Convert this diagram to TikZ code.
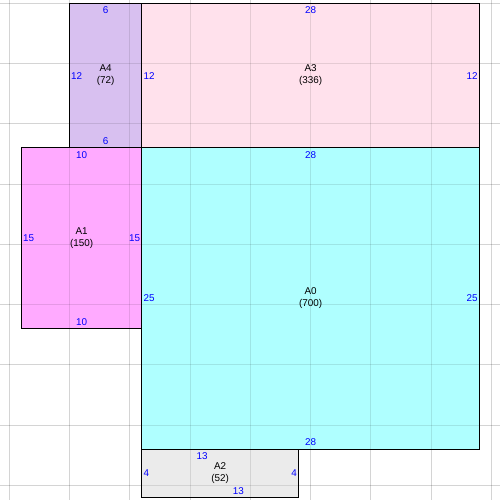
\documentclass[tikz,border=0pt]{standalone}
\usepackage{fontspec}
\setmainfont{Liberation Sans}
\usetikzlibrary{positioning}

\definecolor{fillA0}{RGB}{175,255,255}
\definecolor{fillA1}{RGB}{255,170,255}
\definecolor{fillA2}{RGB}{235,235,235}
\definecolor{fillA3}{RGB}{255,225,236}
\definecolor{fillA4}{RGB}{216,192,240}

\begin{document}
\begin{tikzpicture}[x=0.3cm, y=0.3cm,
      Piece/.style={draw=black, line width=0.8pt},
      Grid/.style={draw=black, draw opacity=0.17, line width=0.6pt},
      Tint/.style={draw=black, draw opacity=0.1, line width=0.6pt},
      Name/.style={align=center, font=\fontsize{7}{8.5}\selectfont, inner sep=0pt},
      Side/.style={text=blue, font=\fontsize{7}{8.5}\selectfont, inner sep=1pt},
      ]
      \useasboundingbox (-0.77,0.27) rectangle (40.72,-41.22);

      % sheet grid
      \foreach \i in {0,5,...,40} {
        \draw[Grid] (\i,0.27) -- (\i,-41.22);
        \draw[Grid] (-0.77,-\i) -- (40.72,-\i);
      }

      % pieces
      \fill[fillA4] (5,0) rectangle (11,-12);
      \fill[fillA3] (11,0) rectangle (39,-12);
      \fill[fillA1] (1,-12) rectangle (11,-27);
      \fill[fillA0] (11,-12) rectangle (39,-37);
      \fill[fillA2] (11,-37) rectangle (24,-41);

      % grid seen through the pieces
      \begin{scope}
        \clip (5,0) rectangle (39,-12) (1,-12) rectangle (39,-27)
              (11,-27) rectangle (39,-37) (11,-37) rectangle (24,-41);
        \foreach \i in {0,5,...,40} {
          \draw[Tint] (\i,0.27) -- (\i,-41.22);
          \draw[Tint] (-0.77,-\i) -- (40.72,-\i);
        }
      \end{scope}

      \draw[Piece] (5,0) rectangle (11,-12);
      \draw[Piece] (11,0) rectangle (39,-12);
      \draw[Piece] (1,-12) rectangle (11,-27);
      \draw[Piece] (11,-12) rectangle (39,-37);
      \draw[Piece] (11,-37) rectangle (24,-41);

      % A4
      \node[Name] (A4) at (8,-6) {A4\\(72)};
      \node[Side] (A4t) at (8,-0.58) {6};
      \node[Side] (A4b) at (8,-11.42) {6};
      \node[Side, anchor=west] (A4l) at (5,-6) {12};

      % A3
      \node[Name] (A3) at (25,-6) {A3\\(336)};
      \node[Side] (A3t) at (25,-0.58) {28};
      \node[Side, anchor=west] (A3l) at (11,-6) {12};
      \node[Side, anchor=east] (A3r) at (39,-6) {12};

      % A1
      \node[Name] (A1) at (6,-19.5) {A1\\(150)};
      \node[Side] (A1t) at (6,-12.58) {10};
      \node[Side] (A1b) at (6,-26.45) {10};
      \node[Side, anchor=west] (A1l) at (1,-19.5) {15};
      \node[Side, anchor=east] (A1r) at (11,-19.5) {15};

      % A0
      \node[Name] (A0) at (25,-24.5) {A0\\(700)};
      \node[Side] (A0t) at (25,-12.58) {28};
      \node[Side] (A0b) at (25,-36.42) {28};
      \node[Side, anchor=west] (A0l) at (11,-24.5) {25};
      \node[Side, anchor=east] (A0r) at (39,-24.5) {25};

      % A2
      \node[Name] (A2) at (17.5,-39) {A2\\(52)};
      \node[Side] (A2t) at (16,-37.58) {13};
      \node[Side] (A2b) at (19,-40.47) {13};
      \node[Side, anchor=west] (A2l) at (11,-39) {4};
      \node[Side, anchor=east] (A2r) at (24,-39) {4};
\end{tikzpicture}
\end{document}
